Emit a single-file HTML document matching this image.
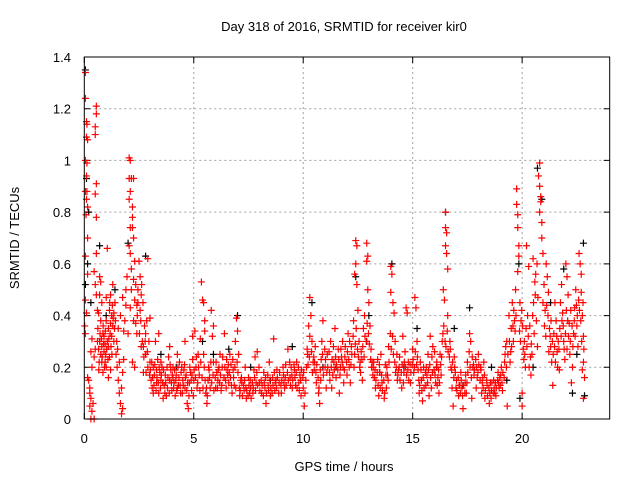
<!DOCTYPE html>
<html><head><meta charset="utf-8"><style>
body{margin:0;background:#fff;}
svg{display:block;font-family:"Liberation Sans",sans-serif;}
</style></head><body>
<svg id="chart" width="640" height="480" viewBox="0 0 640 480" xmlns="http://www.w3.org/2000/svg">
<rect width="640" height="480" fill="#fff"/>
<text x="344" y="31" font-size="13" text-anchor="middle" fill="#000">Day 318 of 2016, SRMTID for receiver kir0</text>
<text x="344" y="471" font-size="13" text-anchor="middle" fill="#000">GPS time / hours</text>
<text transform="translate(19,238) rotate(-90)" font-size="13" text-anchor="middle" fill="#000">SRMTID / TECUs</text>
<g id="grid"></g>
<g id="ticks"></g>
<g id="black-series"></g>
<g id="red-series"></g>
<rect x="84.3" y="57" width="525.4" height="362" fill="none" stroke="#000" stroke-width="1"/>
</svg>
<script>
const xTicks=[0,5,10,15,20];
const yTicks=[0,0.2,0.4,0.6,0.8,1,1.2,1.4];
const yTickLabels=["0","0.2","0.4","0.6","0.8","1","1.2","1.4"];
const redPoints=[[0.05,1.34],[0.05,1.24],[0.1,1.15],[0.12,1.14],[0.1,1.09],[0.15,1.08],[0.05,1.0],[0.12,0.99],[0.1,0.94],[0.05,0.88],[0.12,0.88],[0.1,0.85],[0.15,0.82],[0.08,0.79],[0.15,0.7],[0.05,0.63],[0.15,0.56],[0.05,0.46],[0.1,0.41],[0.02,0.36],[0.05,0.33],[0.15,0.16],[0.2,0.15],[0.25,0.12],[0.3,0.08],[0.25,0.05],[0.35,0.03],[0.3,0.0],[0.45,0.0],[0.25,0.1],[0.4,0.06],[0.35,0.2],[0.3,0.26],[0.35,0.31],
[0.55,1.21],[0.55,1.18],[0.5,1.13],[0.5,1.1],[0.55,0.91],[0.5,0.87],[0.55,0.78],[0.55,0.64],[0.45,0.57],[0.5,0.52],[0.55,0.48],[0.6,0.42],[0.6,0.3],[0.5,0.27],[0.45,0.24],
[0.7,0.55],[0.75,0.53],[0.7,0.48],[0.8,0.45],[0.65,0.41],[0.75,0.38],[0.85,0.33],[0.7,0.3],[0.8,0.28],[0.9,0.26],[0.75,0.25],[0.95,0.22],[1.0,0.2],[0.85,0.18],[1.05,0.3],[1.1,0.35],[1.0,0.38],[1.2,0.48],[1.15,0.42],[1.25,0.4],[1.3,0.36],[1.1,0.28],[1.25,0.32],[1.35,0.3],[1.3,0.52],[1.4,0.45],[1.2,0.19],[1.05,0.66],[1.45,0.25],[1.5,0.2],[1.1,0.16],[0.9,0.32],[0.8,0.22],[0.95,0.29],[1.15,0.24],[1.35,0.41],[1.0,0.47],[0.65,0.27],[1.2,0.37],
[1.55,0.15],[1.6,0.1],[1.65,0.06],[1.7,0.02],[1.75,0.04],[1.7,0.12],[1.75,0.18],[1.6,0.22],[1.8,0.23],[1.55,0.35],[1.65,0.4],[1.8,0.34],[1.85,0.38],[1.9,0.44],[1.75,0.47],[1.95,0.55],[1.9,0.5],
[2.05,1.01],[2.1,1.0],[2.05,0.93],[2.15,0.93],[2.25,0.93],[2.1,0.88],[2.05,0.85],[2.2,0.82],[2.2,0.78],[2.1,0.74],[2.2,0.74],[2.25,0.7],[2.05,0.67],[2.1,0.64],[2.3,0.61],[2.15,0.58],[2.25,0.54],[2.15,0.5],[2.3,0.46],[2.4,0.44],[2.1,0.43],[2.25,0.38],[2.35,0.37],[2.0,0.33],[2.4,0.33],[2.45,0.5],[2.55,0.55],[2.5,0.61],[2.6,0.48],[2.55,0.42],[2.2,0.22],[2.3,0.2],[2.6,0.28],[2.45,0.45],[2.35,0.52],
[2.65,0.3],[2.7,0.28],[2.75,0.36],[2.8,0.25],[2.9,0.62],[2.85,0.38],[2.95,0.3],[3.0,0.22],[2.7,0.18],[2.8,0.33],[2.9,0.2],
[3.05,0.15],[3.1,0.12],[3.15,0.2],[3.2,0.17],[3.3,0.14],[3.35,0.23],[3.4,0.1],[3.45,0.18],[3.5,0.15],[3.55,0.2],[3.6,0.08],[3.65,0.13],[3.7,0.17],[3.8,0.12],[3.85,0.24],[3.9,0.15],[4.0,0.11],[4.05,0.2],[4.1,0.14],[4.15,0.09],[4.2,0.17],[4.3,0.13],[4.35,0.22],[4.4,0.1],[4.5,0.15],[4.55,0.19],[4.6,0.12],[4.7,0.06],[4.75,0.04],[4.8,0.14],[4.85,0.18],[4.9,0.11],[4.95,0.23],[5.0,0.15],[3.4,0.33],[3.9,0.28],[3.0,0.39],[4.6,0.3],[4.95,0.32],[3.25,0.3],[4.25,0.25],[3.15,0.1],[3.5,0.22],[3.75,0.09],[4.05,0.16],[4.45,0.2],[4.65,0.17],[3.3,0.19],[3.95,0.19],[4.25,0.12],
[5.05,0.34],[5.1,0.2],[5.15,0.12],[5.2,0.25],[5.25,0.17],[5.3,0.31],[5.35,0.53],[5.4,0.46],[5.45,0.45],[5.5,0.38],[5.5,0.34],[5.45,0.25],[5.55,0.1],[5.6,0.06],[5.65,0.15],[5.7,0.19],[5.8,0.42],[5.85,0.32],[5.9,0.36],[5.9,0.22],[6.0,0.12],[6.05,0.18],[6.1,0.15],[6.2,0.25],[6.25,0.11],[6.3,0.2],[6.4,0.33],[6.5,0.23],[6.55,0.17],[6.6,0.14],[6.7,0.21],[6.75,0.1],[6.8,0.19],[6.9,0.3],[6.95,0.39],[7.0,0.34],[7.05,0.25],[6.85,0.13],[5.75,0.12],[6.15,0.2],[6.45,0.15],[6.65,0.25],
[7.1,0.09],[7.2,0.14],[7.3,0.11],[7.4,0.08],[7.5,0.16],[7.6,0.12],[7.7,0.1],[7.75,0.19],[7.8,0.24],[7.9,0.26],[8.0,0.14],[8.1,0.1],[8.2,0.18],[8.3,0.06],[8.4,0.13],[8.5,0.09],[8.6,0.16],[8.65,0.31],[8.7,0.11],[8.8,0.19],[8.9,0.14],[9.0,0.1],[9.1,0.17],[9.2,0.21],[9.3,0.27],[9.4,0.16],[9.5,0.12],[9.6,0.19],[9.7,0.22],[9.8,0.14],[9.9,0.09],[10.0,0.12],[10.05,0.05],[7.35,0.2],[8.45,0.22],[9.65,0.13],[7.15,0.15],[7.55,0.1],[7.85,0.14],[8.25,0.12],[8.75,0.15],[9.15,0.12],[9.45,0.2],[9.85,0.17],
[10.2,0.25],[10.3,0.47],[10.35,0.4],[10.25,0.36],[10.3,0.32],[10.4,0.3],[10.45,0.22],[10.5,0.19],[10.55,0.28],[10.6,0.14],[10.7,0.1],[10.75,0.06],[10.8,0.15],[10.85,0.3],[10.9,0.38],[11.0,0.2],[11.05,0.12],[10.15,0.2],
[11.1,0.25],[11.2,0.18],[11.25,0.3],[11.3,0.12],[11.4,0.22],[11.45,0.35],[11.5,0.16],[11.6,0.27],[11.65,0.1],[11.7,0.2],[11.8,0.3],[11.85,0.14],[11.9,0.24],[12.0,0.17],[12.05,0.33],[12.1,0.2],[12.2,0.28],[12.3,0.38],[12.35,0.25],[12.4,0.69],[12.45,0.67],[12.4,0.6],[12.35,0.56],[12.45,0.52],[12.5,0.42],[12.55,0.3],[12.6,0.22],[12.7,0.15],[12.75,0.35],[12.8,0.4],[12.9,0.68],[12.95,0.63],[12.9,0.61],[12.95,0.5],[13.0,0.45],[13.05,0.36],[13.1,0.27],[13.2,0.2],[13.25,0.16],[13.3,0.12],[13.4,0.23],[13.45,0.09],[13.5,0.18],[13.6,0.14],[13.7,0.08],[13.75,0.21],[13.8,0.12],[13.9,0.28],[14.0,0.59],[14.05,0.56],[14.0,0.49],[14.1,0.45],[14.15,0.41],[14.2,0.3],[14.25,0.2],[14.3,0.15],[14.4,0.24],[14.5,0.12],[14.55,0.32],[14.6,0.18],[14.7,0.43],[14.75,0.41],[14.8,0.22],[14.9,0.14],[15.0,0.27],[15.1,0.47],[15.15,0.43],[15.2,0.3],[15.25,0.19],[15.3,0.1],[15.4,0.15],[15.45,0.07],[15.5,0.2],[15.6,0.13],[15.7,0.25],[15.75,0.09],[15.8,0.32],[15.9,0.18],[16.0,0.26],[16.05,0.14],[16.1,0.22],[16.2,0.1],[16.3,0.17],[16.35,0.3],[16.4,0.5],[16.45,0.46],[16.5,0.8],[16.5,0.74],[16.55,0.72],[16.5,0.67],[16.55,0.64],[16.6,0.58],[16.6,0.4],[16.7,0.3],[16.75,0.2],[16.8,0.12],[16.85,0.05],[16.9,0.24],[17.0,0.15],[17.1,0.09],[17.2,0.18],[17.25,0.12],[17.3,0.04],[17.4,0.14],[17.5,0.22],[17.6,0.33],[17.65,0.3],[17.7,0.08],[17.8,0.17],[17.9,0.12],[18.0,0.25],[18.1,0.2],[18.15,0.1],[18.2,0.16],[18.3,0.08],[18.4,0.13],[18.5,0.06],[18.6,0.11],[18.7,0.15],[18.8,0.09],[18.9,0.18],[19.0,0.13],[19.05,0.2],[19.1,0.11],[19.2,0.22],
[11.35,0.17],[11.75,0.24],[12.15,0.14],[12.65,0.26],[13.15,0.22],[13.55,0.25],[13.85,0.17],[14.35,0.19],[14.65,0.26],[15.05,0.18],[15.35,0.22],[15.65,0.17],[15.85,0.12],[16.15,0.16],[16.25,0.25],[16.95,0.18],[17.15,0.13],[17.45,0.1],[17.75,0.2],[17.95,0.16],[18.25,0.22],[18.55,0.14],[18.75,0.1],[18.95,0.12],
[19.3,0.3],[19.35,0.25],[19.4,0.4],[19.5,0.35],[19.55,0.45],[19.6,0.3],[19.7,0.5],[19.75,0.89],[19.75,0.83],[19.8,0.79],[19.8,0.74],[19.85,0.67],[19.85,0.63],[19.8,0.57],[19.9,0.45],[19.95,0.38],[20.0,0.05],[20.0,0.1],[20.05,0.27],[20.1,0.3],[20.15,0.2],[20.2,0.67],[20.3,0.59],[20.35,0.36],[20.4,0.17],[20.45,0.25],[20.5,0.62],[20.6,0.48],[20.65,0.38],[20.7,0.28],[20.75,0.94],[20.8,0.99],[20.8,0.9],[20.85,0.86],[20.85,0.84],[20.8,0.8],[20.9,0.76],[20.9,0.7],[20.95,0.64],[21.0,0.52],[21.05,0.42],[21.1,0.6],[21.15,0.55],[21.2,0.49],[21.25,0.35],[21.3,0.28],[21.35,0.22],[21.4,0.13],[21.45,0.33],[21.5,0.45],[21.55,0.38],[21.6,0.26],[21.7,0.19],[21.75,0.45],[21.8,0.52],[21.85,0.41],[21.9,0.3],[21.95,0.23],[22.0,0.6],[22.05,0.55],[22.1,0.48],[22.15,0.37],[22.2,0.3],[22.25,0.14],[22.3,0.2],[22.4,0.43],[22.45,0.5],[22.5,0.36],[22.55,0.28],[22.6,0.64],[22.65,0.6],[22.7,0.56],[22.7,0.49],[22.75,0.4],[22.8,0.32],[22.8,0.22],[22.85,0.16],[22.8,0.08],
[19.45,0.22],[19.65,0.38],[20.25,0.4],[20.55,0.33],[21.65,0.3],[22.35,0.33],[20.95,0.45],[22.05,0.27]];
const redExtraPoints=[[0.62,0.35],[0.68,0.22],[0.72,0.33],[0.78,0.31],[0.82,0.24],[0.88,0.29],[0.92,0.2],[0.98,0.25],[1.02,0.27],[1.08,0.23],[1.12,0.31],[1.18,0.33],[1.22,0.28],[1.28,0.44],[1.32,0.39],[1.38,0.35],[1.42,0.38],[1.48,0.3],[1.52,0.27],[0.66,0.19],[0.86,0.36],[1.16,0.45],[0.96,0.34],[1.26,0.25],
[2.62,0.52],[2.68,0.45],[2.58,0.38],[2.72,0.24],[2.78,0.3],[2.82,0.18],[2.88,0.26],[2.98,0.17],[2.52,0.33],[2.42,0.4],
[3.02,0.19],[3.08,0.22],[3.12,0.16],[3.18,0.13],[3.22,0.21],[3.28,0.11],[3.32,0.16],[3.38,0.14],[3.42,0.2],[3.48,0.12],[3.52,0.17],[3.58,0.14],[3.62,0.19],[3.68,0.1],[3.72,0.14],[3.78,0.2],[3.82,0.16],[3.88,0.1],[3.92,0.21],[3.98,0.14],[4.02,0.17],[4.08,0.12],[4.12,0.19],[4.18,0.15],[4.22,0.11],[4.28,0.2],[4.32,0.16],[4.38,0.13],[4.42,0.18],[4.48,0.1],[4.52,0.13],[4.58,0.21],[4.62,0.16],[4.68,0.11],[4.72,0.14],[4.78,0.09],[4.82,0.2],[4.88,0.15],[4.92,0.17],[4.98,0.09],
[5.02,0.19],[5.08,0.16],[5.12,0.24],[5.18,0.14],[5.22,0.2],[5.28,0.11],[5.32,0.22],[5.38,0.16],[5.42,0.12],[5.48,0.2],[5.52,0.15],[5.58,0.12],[5.62,0.09],[5.68,0.2],[5.72,0.16],[5.78,0.22],[5.82,0.14],[5.88,0.17],[5.92,0.11],[5.98,0.16],[6.02,0.22],[6.08,0.12],[6.12,0.19],[6.18,0.14],[6.22,0.17],[6.28,0.13],[6.32,0.24],[6.38,0.16],[6.42,0.2],[6.48,0.12],[6.52,0.19],[6.58,0.21],[6.62,0.18],[6.68,0.16],[6.72,0.13],[6.78,0.23],[6.82,0.16],[6.88,0.2],[6.92,0.12],[6.98,0.22],
[7.02,0.18],[7.08,0.12],[7.12,0.11],[7.18,0.16],[7.22,0.09],[7.28,0.13],[7.32,0.15],[7.38,0.12],[7.42,0.11],[7.48,0.09],[7.52,0.13],[7.58,0.15],[7.62,0.08],[7.68,0.14],[7.72,0.12],[7.78,0.16],[7.82,0.11],[7.88,0.18],[7.92,0.13],[7.98,0.2],[8.02,0.11],[8.08,0.15],[8.12,0.13],[8.18,0.09],[8.22,0.14],[8.28,0.16],[8.32,0.1],[8.38,0.17],[8.42,0.11],[8.48,0.15],[8.52,0.12],[8.58,0.1],[8.62,0.13],[8.68,0.18],[8.72,0.14],[8.78,0.12],[8.82,0.16],[8.88,0.1],[8.92,0.18],[8.98,0.13],[9.02,0.15],[9.08,0.2],[9.12,0.14],[9.18,0.16],[9.22,0.13],[9.28,0.18],[9.32,0.15],[9.38,0.22],[9.42,0.13],[9.48,0.17],[9.52,0.15],[9.58,0.21],[9.62,0.16],[9.68,0.18],[9.72,0.12],[9.78,0.2],[9.82,0.11],[9.88,0.15],[9.92,0.19],[9.98,0.16],
[10.02,0.18],[10.08,0.1],[10.12,0.15],[10.18,0.27],[10.22,0.21],[10.28,0.24],[10.38,0.26],[10.42,0.18],[10.48,0.24],[10.52,0.22],[10.58,0.18],[10.62,0.21],[10.68,0.16],[10.72,0.12],[10.78,0.19],[10.82,0.23],[10.88,0.25],[10.92,0.17],[10.98,0.27],
[11.02,0.23],[11.08,0.18],[11.12,0.2],[11.18,0.26],[11.22,0.15],[11.28,0.2],[11.32,0.23],[11.38,0.28],[11.42,0.19],[11.48,0.24],[11.52,0.21],[11.58,0.19],[11.62,0.23],[11.68,0.17],[11.72,0.27],[11.78,0.22],[11.82,0.2],[11.88,0.19],[11.92,0.28],[11.98,0.22],[12.02,0.26],[12.08,0.23],[12.12,0.3],[12.18,0.21],[12.22,0.25],[12.28,0.32],[12.32,0.2],[12.38,0.29],[12.42,0.35],[12.48,0.27],[12.52,0.24],[12.58,0.2],[12.62,0.18],[12.68,0.23],[12.72,0.28],[12.78,0.24],[12.82,0.32],[12.88,0.3],[12.92,0.37],[12.98,0.33],[13.02,0.29],[13.08,0.23],[13.12,0.2],[13.18,0.17],[13.22,0.22],[13.28,0.19],[13.32,0.15],[13.38,0.18],[13.42,0.13],[13.48,0.21],[13.52,0.12],[13.58,0.17],[13.62,0.11],[13.68,0.15],[13.72,0.1],[13.78,0.17],[13.82,0.2],[13.88,0.15],[13.92,0.22],[13.98,0.33],[14.02,0.27],[14.08,0.32],[14.12,0.25],[14.18,0.22],[14.22,0.18],[14.28,0.25],[14.32,0.17],[14.38,0.2],[14.42,0.15],[14.48,0.18],[14.52,0.21],[14.58,0.14],[14.62,0.22],[14.68,0.2],[14.72,0.17],[14.78,0.19],[14.82,0.15],[14.88,0.21],[14.92,0.18],[14.98,0.21],
[15.02,0.23],[15.08,0.2],[15.12,0.26],[15.18,0.21],[15.22,0.24],[15.28,0.15],[15.32,0.13],[15.38,0.19],[15.42,0.11],[15.48,0.16],[15.52,0.12],[15.58,0.18],[15.62,0.2],[15.68,0.14],[15.72,0.19],[15.78,0.21],[15.82,0.16],[15.88,0.24],[15.92,0.28],[15.98,0.19],[16.02,0.17],[16.08,0.2],[16.12,0.13],[16.18,0.19],[16.22,0.14],[16.28,0.21],[16.32,0.24],[16.38,0.33],[16.42,0.36],[16.48,0.3],[16.52,0.28],[16.58,0.34],[16.62,0.26],[16.68,0.24],[16.72,0.27],[16.78,0.19],[16.82,0.22],[16.88,0.16],[16.92,0.2],[16.98,0.12],[17.02,0.11],[17.08,0.16],[17.12,0.13],[17.18,0.1],[17.22,0.15],[17.28,0.09],[17.32,0.13],[17.38,0.1],[17.42,0.17],[17.48,0.14],[17.52,0.18],[17.58,0.26],[17.62,0.2],[17.68,0.16],[17.72,0.24],[17.78,0.21],[17.82,0.19],[17.88,0.23],[17.92,0.2],[17.98,0.18],[18.02,0.21],[18.08,0.15],[18.12,0.19],[18.18,0.14],[18.22,0.12],[18.28,0.17],[18.32,0.11],[18.38,0.15],[18.42,0.09],[18.48,0.12],[18.52,0.1],[18.58,0.08],[18.62,0.14],[18.68,0.1],[18.72,0.12],[18.78,0.14],[18.82,0.12],[18.88,0.15],[18.92,0.14],[18.98,0.16],[19.02,0.17],[19.08,0.14],[19.12,0.18],[19.18,0.16],[19.22,0.25],[19.28,0.2],[19.32,0.05],[19.25,0.28],
[19.42,0.3],[19.48,0.26],[19.52,0.28],[19.58,0.36],[19.62,0.42],[19.68,0.34],[19.72,0.4],[19.88,0.34],[19.92,0.3],[19.98,0.42],[20.02,0.36],[20.08,0.23],[20.12,0.25],[20.18,0.35],[20.22,0.28],[20.28,0.32],[20.32,0.2],[20.38,0.24],[20.42,0.29],[20.48,0.4],[20.52,0.45],[20.58,0.53],[20.62,0.56],[20.68,0.6],[20.72,0.47],[21.02,0.36],[21.08,0.32],[21.12,0.44],[21.18,0.4],[21.22,0.26],[21.28,0.32],[21.32,0.38],[21.38,0.3],[21.42,0.25],[21.48,0.28],[21.52,0.22],[21.58,0.32],[21.62,0.2],[21.68,0.27],[21.72,0.35],[21.78,0.32],[21.82,0.38],[21.88,0.36],[21.92,0.27],[21.98,0.33],[22.02,0.42],[22.08,0.38],[22.12,0.32],[22.18,0.25],[22.22,0.42],[22.28,0.36],[22.32,0.28],[22.38,0.38],[22.42,0.32],[22.48,0.44],[22.52,0.4],[22.58,0.46],[22.62,0.42],[22.68,0.38],[22.72,0.3],[22.78,0.45],[22.82,0.27],[22.75,0.19]];
const blackPoints=[[0.05,1.35],[0.1,0.93],[0.2,0.8],[0.15,0.6],[0.05,0.52],[0.3,0.45],[0.7,0.67],[1.4,0.5],[2.0,0.68],[2.8,0.63],[3.5,0.25],[4.2,0.2],[5.4,0.3],[6.6,0.27],[7.0,0.4],[7.6,0.2],[8.5,0.15],[9.5,0.28],[10.4,0.45],[10.9,0.2],[11.5,0.2],[12.4,0.55],[13.0,0.4],[13.5,0.18],[14.05,0.6],[14.6,0.2],[15.2,0.35],[16.1,0.2],[16.5,0.8],[16.9,0.35],[17.3,0.13],[17.6,0.43],[18.6,0.2],[19.3,0.15],[19.9,0.08],[19.85,0.6],[20.7,0.97],[20.9,0.85],[21.3,0.45],[21.9,0.58],[22.3,0.1],[22.8,0.68],[22.85,0.09],[22.5,0.25],[20.5,0.2],[12.9,0.3],[5.9,0.25],[1.0,0.4]];

const svgNS="http://www.w3.org/2000/svg";
const L=84.3,R=609.7,T=57,B=419;
const xMax=24,yMax=1.4;
function xs(v){return L+(R-L)*v/xMax;}
function ys(v){return B-(B-T)*v/yMax;}
const grid=document.getElementById('grid');
const ticks=document.getElementById('ticks');
const chart=document.getElementById('chart');
xTicks.forEach(function(t){
  const x=xs(t);
  if(t>0){
    const g=document.createElementNS(svgNS,'line');
    g.setAttribute('x1',x);g.setAttribute('x2',x);g.setAttribute('y1',T);g.setAttribute('y2',B);
    g.setAttribute('stroke','#a0a0a0');g.setAttribute('stroke-dasharray','2,3');
    
    
    grid.appendChild(g);
  }
  const tk=document.createElementNS(svgNS,'path');
  tk.setAttribute('d','M'+x+' '+B+'v-6M'+x+' '+T+'v6');
  tk.setAttribute('stroke','#000');
  
  
  ticks.appendChild(tk);
  const lb=document.createElementNS(svgNS,'text');
  lb.setAttribute('x',x);lb.setAttribute('y',443);lb.setAttribute('font-size','13');lb.setAttribute('text-anchor','middle');
  lb.textContent=String(t);
  
  
  chart.appendChild(lb);
});
yTicks.forEach(function(t,i){
  const y=ys(t);
  if(t>0&&t<yMax){
    const g=document.createElementNS(svgNS,'line');
    g.setAttribute('x1',L);g.setAttribute('x2',R);g.setAttribute('y1',y);g.setAttribute('y2',y);
    g.setAttribute('stroke','#a0a0a0');g.setAttribute('stroke-dasharray','2,3');
    
    
    grid.appendChild(g);
  }
  const tk=document.createElementNS(svgNS,'path');
  tk.setAttribute('d','M'+L+' '+y+'h6M'+R+' '+y+'h-6');
  tk.setAttribute('stroke','#000');
  
  
  ticks.appendChild(tk);
  const lb=document.createElementNS(svgNS,'text');
  lb.setAttribute('x',71);lb.setAttribute('y',y+5);lb.setAttribute('font-size','13');lb.setAttribute('text-anchor','end');
  lb.textContent=yTickLabels[i];
  
  
  chart.appendChild(lb);
});
function plot(points,gid,color,name){
  const g=document.getElementById(gid);
  points.forEach(function(p){
    const x=xs(p[0]),y=ys(p[1]);
    const m=document.createElementNS(svgNS,'path');
    m.setAttribute('d','M'+(x-3.5)+' '+y+'h7M'+x+' '+(y-3.5)+'v7');
    m.setAttribute('stroke',color);m.setAttribute('stroke-width','1.2');
    
    
    g.appendChild(m);
  });
}
plot(blackPoints,'black-series','#000','point-black');
plot(redPoints,'red-series','#ff0000','point-red');
plot(redExtraPoints,'red-series','#ff0000','point-red');
</script>
</body></html>
